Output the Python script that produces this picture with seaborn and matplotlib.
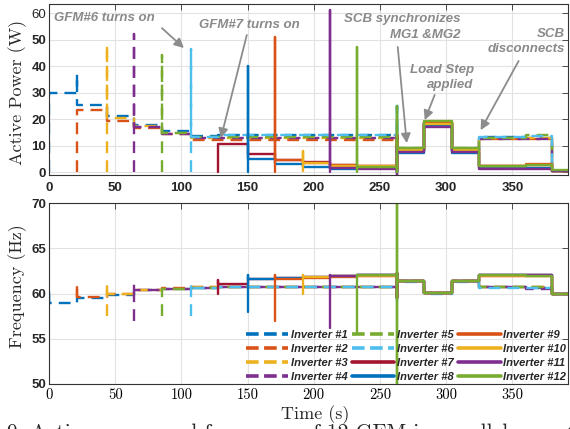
import numpy as np
import matplotlib
matplotlib.use("Agg")
import matplotlib.pyplot as plt
from matplotlib.lines import Line2D
import seaborn as sns

# switching instants (s): segment k runs from t_events[k] to t_events[k + 1]
t_events = [0, 21.2, 44, 64, 85.6, 107.6, 128, 150, 170.5, 191.7, 212.5,
            232.6, 263, 283.3, 304.5, 325, 360, 380, 392]
sync_seg = 12  # SCB synchronizes MG1 & MG2

inverters = ["Inverter #%d" % i for i in range(1, 13)]
colors = ["#0072BD", "#D95319", "#EDB120", "#7E2F8E", "#77AC30", "#4DBEEE", "#A2142F",
          "#0072BD", "#D95319", "#EDB120", "#7E2F8E", "#77AC30"]
dashed = [True] * 6 + [False] * 6
on_seg = [0, 1, 2, 3, 4, 5, 6, 7, 8, 9, 10, 11]

# active power (W), one value per segment from the inverter's turn-on
p_inv1 = [29.9, 25.3, 21.1, 17.7, 15.5, 13.6, 13.8, 13.8, 13.8, 13.8, 13.8, 13.8, 8.0, 18.0, 8.0, 13.3, 13.0, 0.3]
p_inv2 = [23.5, 19.2, 16.5, 14.2, 12.2, 12.0, 12.0, 12.0, 12.0, 12.0, 12.0, 8.6, 18.6, 8.6, 12.3, 12.5, 0.3]
p_inv3 = [20.5, 17.2, 14.8, 13.0, 13.0, 13.0, 13.0, 13.0, 13.0, 13.0, 8.4, 18.4, 8.4, 12.8, 12.8, 0.3]
p_inv4 = [17.0, 14.3, 12.8, 12.7, 12.7, 12.7, 12.7, 12.7, 12.7, 8.2, 18.2, 8.2, 12.6, 12.4, 0.3]
p_inv5 = [14.8, 13.3, 13.3, 13.3, 13.3, 13.3, 13.3, 13.3, 9.0, 19.0, 9.0, 13.0, 13.8, 0.3]
p_inv6 = [13.4, 14.0, 14.0, 14.0, 14.0, 14.0, 14.0, 8.8, 18.8, 8.8, 13.4, 13.6, 0.3]
p_inv7 = [10.6, 6.8, 4.6, 3.8, 2.6, 2.4, 8.7, 18.7, 8.7, 2.3, 2.6, 0.3]
p_inv8 = [4.9, 3.0, 2.0, 1.3, 1.5, 7.3, 17.3, 7.3, 1.4, 1.4, 0.3]
p_inv9 = [4.4, 3.3, 2.6, 2.4, 8.5, 18.5, 8.5, 2.4, 2.9, 0.3]
p_inv10 = [3.5, 2.4, 2.2, 8.3, 18.3, 8.3, 2.2, 2.7, 0.3]
p_inv11 = [1.5, 1.1, 7.5, 17.0, 7.5, 1.2, 1.3, 0.3]
p_inv12 = [2.0, 9.2, 19.2, 9.2, 2.2, 2.8, 0.6]
p_levels = [p_inv1, p_inv2, p_inv3, p_inv4, p_inv5, p_inv6,
            p_inv7, p_inv8, p_inv9, p_inv10, p_inv11, p_inv12]
p_on_lo = [0, 0, 0, 0, 0, 0, 0, 0, 0, 0.5, 0, 0]
p_on_hi = [29.9, 23.5, 48, 52, 44, 46.5, 10.6, 40, 51, 8, 61, 47]
p_sync_lo = [0, 0, 0, 0, 0, 0, 1, 1, 1, 1, -1, 0]
p_sync_hi = [25, 16, 15, 14, 20, 26.5, 14, 13, 14, 12, 10, 25]

# frequency (Hz)
f_inv1 = [58.9, 59.45, 59.85, 60.35, 60.55, 60.65, 60.7, 60.7, 60.7, 60.7, 60.7, 60.7, 61.35, 60.05, 61.35, 60.7, 60.65, 59.95]
f_inv2 = [59.65, 59.95, 60.4, 60.6, 60.7, 60.75, 60.75, 60.75, 60.75, 60.75, 60.75, 61.4, 60.1, 61.4, 60.75, 60.7, 60.0]
f_inv3 = [60.0, 60.4, 60.55, 60.7, 60.7, 60.7, 60.7, 60.7, 60.7, 60.7, 61.35, 60.05, 61.35, 60.7, 60.7, 60.0]
f_inv4 = [60.35, 60.55, 60.65, 60.75, 60.75, 60.75, 60.75, 60.75, 60.75, 61.4, 60.1, 61.4, 60.75, 60.5, 60.0]
f_inv5 = [60.5, 60.65, 60.7, 60.7, 60.7, 60.7, 60.7, 60.7, 61.35, 60.05, 61.35, 60.7, 60.7, 59.95]
f_inv6 = [60.65, 60.7, 60.7, 60.7, 60.7, 60.7, 60.7, 61.3, 60.0, 61.3, 60.65, 60.65, 60.0]
f_inv7 = [61.0, 61.55, 61.7, 61.8, 61.9, 62.0, 61.4, 60.1, 61.4, 62.0, 62.0, 60.0]
f_inv8 = [61.55, 61.7, 61.8, 61.9, 62.0, 61.35, 60.05, 61.35, 62.05, 62.05, 59.95]
f_inv9 = [61.65, 61.75, 61.85, 61.95, 61.4, 60.1, 61.4, 61.95, 61.95, 60.0]
f_inv10 = [61.8, 61.9, 61.95, 61.4, 60.1, 61.4, 61.95, 61.95, 60.0]
f_inv11 = [61.95, 62.0, 61.35, 60.05, 61.35, 62.0, 62.0, 59.95]
f_inv12 = [62.0, 61.4, 60.1, 61.4, 62.0, 61.95, 60.0]
f_levels = [f_inv1, f_inv2, f_inv3, f_inv4, f_inv5, f_inv6,
            f_inv7, f_inv8, f_inv9, f_inv10, f_inv11, f_inv12]
f_on_lo = [58.9, 59.5, 57.5, 57.0, 57.5, 57.5, 60.0, 58.0, 57.0, 60.0, 56.2, 55.5]
f_on_hi = [60.5, 61.0, 61.0, 61.0, 60.5, 61.0, 61.5, 62.0, 62.0, 62.0, 62.0, 62.0]
f_sync_lo = [59.5, 59.5, 59.5, 59.5, 59.5, 59.2, 59.5, 59.5, 59.5, 59.5, 59.5, 50.0]
f_sync_hi = [62.3, 62.3, 62.3, 62.3, 62.3, 62.3, 62.3, 62.3, 62.3, 62.3, 62.3, 70.0]

# extra transient of inverter #1 when inverter #2 connects
p_kick_inv1 = 37


def step_trace(first, levels, on_lo, on_hi, sync_lo, sync_hi, kick=None):
    t, y = [], []
    for j, lv in enumerate(levels):
        k = first + j
        t0, t1 = t_events[k], t_events[k + 1]
        if j == 0:
            t += [t0, t0]
            y += [on_lo, on_hi]
        if k == sync_seg:
            t += [t0, t0]
            y += [sync_lo, sync_hi]
        if kick is not None and k == kick[0]:
            t += [t0]
            y += [kick[1]]
        t += [t0, t1]
        y += [lv, lv]
    return t, y


sns.set_style("whitegrid")
plt.rcParams["font.family"] = ["Liberation Sans", "DejaVu Sans"]
serif = "cmr10"
gray_txt = "#8a8a8a"

fig = plt.figure(figsize=(5.7, 4.29), dpi=100)
ax1 = fig.add_axes([49 / 570, 1 - 175 / 429, 519 / 570, 171 / 429])
ax2 = fig.add_axes([49 / 570, 1 - 384 / 429, 519 / 570, 181 / 429])

for i in range(12):
    ls = (0, (5, 3)) if dashed[i] else "-"
    kick = (1, p_kick_inv1) if i == 0 else None
    t, y = step_trace(on_seg[i], p_levels[i], p_on_lo[i], p_on_hi[i],
                      p_sync_lo[i], p_sync_hi[i], kick)
    sns.lineplot(x=t, y=y, ax=ax1, sort=False, estimator=None, color=colors[i],
                 linestyle=ls, lw=1.7)
    t, y = step_trace(on_seg[i], f_levels[i], f_on_lo[i], f_on_hi[i],
                      f_sync_lo[i], f_sync_hi[i])
    sns.lineplot(x=t, y=y, ax=ax2, sort=False, estimator=None, color=colors[i],
                 linestyle=ls, lw=1.7)

for ax in (ax1, ax2):
    ax.set_xlim(0, 392)
    ax.set_xticks(range(0, 351, 50))
    ax.grid(True, color="#e2e2e2", lw=0.8)
    ax.tick_params(direction="in", top=True, right=True, length=4, width=0.6,
                   color="#333333", labelsize=9.5, labelcolor="#262626", pad=2)
    for s in ax.spines.values():
        s.set_color("#333333")
        s.set_linewidth(0.8)
    ax.set_xlabel("")
    ax.set_ylabel("")
    for lab in ax.get_yticklabels():
        lab.set_fontweight("bold")

ax1.set_ylim(-1.1, 63.4)
ax1.set_yticks(range(0, 61, 10))
ax1.tick_params(axis="x", pad=5)
for lab in ax1.get_xticklabels():
    lab.set_fontweight("bold")

ax2.set_ylim(50, 70)
ax2.set_yticks(range(50, 71, 5))
ax2.tick_params(axis="x", pad=3)
for lab in ax2.get_xticklabels():
    lab.set_family(serif)
    lab.set_fontsize(10.5)
    lab.set_color("black")

# annotations
akw = dict(color=gray_txt, fontsize=9.5, fontweight="bold", fontstyle="italic",
           linespacing=1.35)
arrow = dict(arrowstyle="-|>", color="#8c8c8c", lw=1.3, mutation_scale=14,
             shrinkA=0, shrinkB=0)
ax1.annotate("GFM#6 turns on", xy=(3.8, 58.3), ha="left", va="center", **akw)
ax1.annotate("", xy=(101.9, 46.8), xytext=(85.3, 54.3), arrowprops=arrow)
ax1.annotate("GFM#7 turns on", xy=(113.2, 55.5), ha="left", va="center", **akw)
ax1.annotate("", xy=(129.8, 12.8), xytext=(149.4, 51.7), arrowprops=arrow)
ax1.annotate("SCB synchronizes\nMG1 &MG2", xy=(311, 54.7), ha="right",
             va="center", multialignment="right", **akw)
ax1.annotate("", xy=(270.2, 10.9), xytext=(263.4, 47.2), arrowprops=arrow)
ax1.annotate("Load Step\napplied", xy=(320.8, 35.7), ha="right", va="center",
             multialignment="right", **akw)
ax1.annotate("", xy=(283.8, 19.6), xytext=(291.3, 29.1), arrowprops=arrow)
ax1.annotate("SCB\ndisconnects", xy=(389.4, 49.4), ha="right", va="center",
             multialignment="right", **akw)
ax1.annotate("", xy=(326, 15.8), xytext=(354.7, 41.9), arrowprops=arrow)

# legend
handles = []
for i in range(12):
    ls = (0, (3.5, 1.5)) if dashed[i] else "-"
    handles.append(Line2D([], [], color=colors[i], lw=2.6, linestyle=ls))
ax2.legend(handles, inverters, ncol=3, loc="lower right", bbox_to_anchor=(1.0, 0.0),
           frameon=False, handlelength=3.8, handletextpad=0.25, columnspacing=0.4,
           labelspacing=0.37, borderaxespad=0.05, borderpad=0.1,
           prop=dict(family="Liberation Sans", weight="bold", style="italic", size=8))

fig.text(18 / 570, 1 - 92 / 429, "Active Power (W)", rotation=90, ha="center",
         va="center", family=serif, fontsize=13)
fig.text(17.5 / 570, 1 - 286 / 429, "Frequency (Hz)", rotation=90, ha="center",
         va="center", family=serif, fontsize=13)
fig.text(315 / 570, 1 - 415 / 429, "Time (s)", ha="center", va="center",
         family=serif, fontsize=13)
# figure caption, cut by the bottom edge as in the source image
fig.text(7 / 570, 1 - 423 / 429, "9: Active power and frequency of 12 GFM in parallel operation",
         ha="left", va="top", family=serif, fontsize=15.5)

fig.savefig("out.png", dpi=100)
